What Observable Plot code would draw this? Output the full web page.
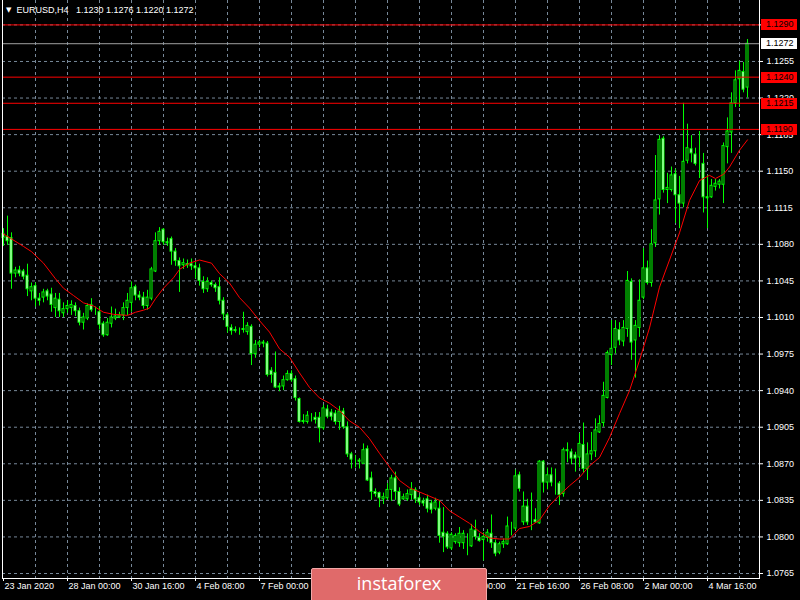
<!DOCTYPE html>
<html><head><meta charset="utf-8">
<script src="https://cdn.jsdelivr.net/npm/d3@7"></script>
<script src="https://cdn.jsdelivr.net/npm/@observablehq/plot@0.6"></script>
<style>
html,body{margin:0;padding:0;background:#000;}
#wrap{position:relative;width:800px;height:600px;overflow:hidden;background:#000;}
#title{position:absolute;left:6px;top:5px;color:#fff;font:9px "Liberation Sans",Arial,sans-serif;white-space:pre;}
#title .tri{font:7px "DejaVu Sans",sans-serif;position:relative;top:-1px;}
#logo{position:absolute;left:311px;top:568px;width:176px;height:34px;background:#e06a6a;border:1px solid #f2a8a8;border-radius:2px;color:#fff;font:18px "Open Sans",sans-serif;display:flex;justify-content:center;align-items:flex-start;padding-top:2px;box-sizing:border-box;}
</style>
</head><body>
<div id="wrap">
<div id="chart"></div>
<div id="title"><span class="tri">▼</span>  EURUSD,H4   1.1230 1.1276 1.1220 1.1272</div>
<div id="logo">instaforex</div>
</div>
<script>
// H4 candles EURUSD, 23 Jan 2020 08:00 -> 6 Mar 2020 08:00 (index = bar number)
const open = [1.1090,1.1087,1.1086,1.1052,1.1055,1.1054,1.1050,1.1035,1.1040,1.1028,
1.1029,1.1035,1.1032,1.1019,1.1027,1.1014,1.1018,1.1019,1.1021,1.1016,
1.1005,1.1009,1.1022,1.1017,1.1015,1.1004,1.0993,1.1004,1.1009,1.1010,
1.1012,1.1019,1.1024,1.1039,1.1031,1.1029,1.1021,1.1028,1.1054,1.1083,
1.1094,1.1082,1.1085,1.1073,1.1064,1.1060,1.1061,1.1061,1.1059,1.1057,
1.1044,1.1037,1.1043,1.1041,1.1039,1.1026,1.1012,1.1000,1.0998,1.0998,
1.0998,1.0996,1.1001,1.0975,1.0984,1.0986,1.0985,1.0959,1.0957,1.0944,
1.0944,1.0950,1.0956,1.0951,1.0932,1.0910,1.0910,1.0914,1.0914,1.0914,
1.0904,1.0922,1.0919,1.0918,1.0910,1.0920,1.0905,1.0879,1.0873,1.0873,
1.0870,1.0884,1.0856,1.0843,1.0842,1.0836,1.0837,1.0845,1.0856,1.0843,
1.0836,1.0836,1.0840,1.0845,1.0837,1.0834,1.0836,1.0832,1.0827,1.0827,
1.0804,1.0803,1.0789,1.0795,1.0794,1.0794,1.0793,1.0791,1.0806,1.0799,
1.0797,1.0799,1.0803,1.0794,1.0785,1.0793,1.0793,1.0810,1.0808,1.0859,
1.0814,1.0829,1.0815,1.0816,1.0813,1.0872,1.0852,1.0859,1.0852,1.0851,
1.0841,1.0883,1.0881,1.0878,1.0876,1.0888,1.0865,1.0879,1.0882,1.0900,
1.0909,1.0933,1.0974,1.0981,1.0998,1.0987,1.0999,1.1044,1.0988,1.1000,
1.1029,1.1057,1.1043,1.1081,1.1123,1.1181,1.1132,1.1132,1.1147,1.1127,
1.1119,1.1160,1.1171,1.1166,1.1158,1.1157,1.1125,1.1125,1.1135,1.1137,
1.1137,1.1173,1.1187,1.1215,1.1238,1.1245,1.1230];
const high = [1.1095,1.1107,1.1091,1.1058,1.1059,1.1056,1.1061,1.1043,1.1043,1.1033,
1.1037,1.1037,1.1038,1.1033,1.1033,1.1024,1.1026,1.1026,1.1024,1.1019,
1.1014,1.1023,1.1028,1.1020,1.1020,1.1006,1.1009,1.1020,1.1018,1.1015,
1.1024,1.1033,1.1044,1.1041,1.1035,1.1034,1.1036,1.1058,1.1091,1.1096,
1.1095,1.1086,1.1087,1.1076,1.1067,1.1066,1.1065,1.1066,1.1063,1.1061,
1.1049,1.1048,1.1045,1.1043,1.1048,1.1029,1.1014,1.1003,1.1001,1.1000,
1.1015,1.1005,1.1003,1.0988,1.0988,1.0988,1.0987,1.0962,1.0977,1.0947,
1.0954,1.0959,1.0959,1.0954,1.0933,1.0917,1.0920,1.0918,1.0919,1.0919,
1.0926,1.0926,1.0922,1.0921,1.0925,1.0923,1.0910,1.0881,1.0878,1.0875,
1.0889,1.0887,1.0862,1.0846,1.0843,1.0842,1.0851,1.0859,1.0862,1.0847,
1.0841,1.0845,1.0852,1.0847,1.0840,1.0837,1.0840,1.0835,1.0837,1.0835,
1.0828,1.0805,1.0804,1.0803,1.0809,1.0806,1.0803,1.0812,1.0816,1.0803,
1.0804,1.0807,1.0821,1.0797,1.0795,1.0798,1.0819,1.0814,1.0864,1.0862,
1.0843,1.0836,1.0842,1.0827,1.0873,1.0873,1.0866,1.0866,1.0865,1.0853,
1.0885,1.0890,1.0884,1.0881,1.0899,1.0909,1.0890,1.0900,1.0913,1.0916,
1.0948,1.0978,1.1007,1.1007,1.1005,1.1007,1.1054,1.1047,1.1007,1.1046,
1.1076,1.1064,1.1094,1.1165,1.1184,1.1183,1.1148,1.1154,1.1152,1.1145,
1.1215,1.1195,1.1184,1.1172,1.1188,1.1167,1.1146,1.1142,1.1142,1.1142,
1.1177,1.1201,1.1225,1.1246,1.1255,1.1254,1.1276];
const low = [1.1078,1.1079,1.1037,1.1048,1.1049,1.1046,1.1030,1.1026,1.1020,1.1021,
1.1024,1.1026,1.1015,1.1010,1.1010,1.1010,1.1014,1.1012,1.1011,1.1002,
1.0998,1.1007,1.1015,1.1012,1.0998,1.0991,1.0992,1.1000,1.1007,1.1009,
1.1007,1.1012,1.1015,1.1026,1.1026,1.1018,1.1017,1.1026,1.1053,1.1079,
1.1079,1.1078,1.1060,1.1059,1.1034,1.1056,1.1057,1.1055,1.1047,1.1040,
1.1033,1.1034,1.1039,1.1034,1.1022,1.1007,1.0995,1.0993,1.0995,1.0993,
1.0995,1.0993,1.0964,1.0971,1.0981,1.0981,1.0953,1.0947,1.0942,1.0939,
1.0940,1.0949,1.0948,1.0930,1.0909,1.0908,1.0908,1.0910,1.0908,1.0890,
1.0902,1.0913,1.0911,1.0907,1.0902,1.0903,1.0876,1.0865,1.0866,1.0865,
1.0870,1.0853,1.0835,1.0838,1.0828,1.0831,1.0835,1.0834,1.0835,1.0829,
1.0835,1.0834,1.0835,1.0832,1.0830,1.0829,1.0823,1.0822,1.0825,1.0794,
1.0785,1.0788,1.0787,1.0793,1.0790,1.0788,1.0782,1.0790,1.0797,1.0795,
1.0777,1.0795,1.0789,1.0781,1.0783,1.0789,1.0792,1.0801,1.0806,1.0843,
1.0811,1.0811,1.0806,1.0813,1.0812,1.0842,1.0845,1.0848,1.0840,1.0830,
1.0838,1.0871,1.0869,1.0862,1.0866,1.0861,1.0854,1.0873,1.0876,1.0899,
1.0905,1.0932,1.0964,1.0975,1.0983,1.0982,1.0991,1.0969,1.0952,1.0991,
1.1027,1.1041,1.1039,1.1077,1.1108,1.1129,1.1119,1.1130,1.1100,1.1095,
1.1115,1.1157,1.1158,1.1155,1.1143,1.1110,1.1095,1.1124,1.1131,1.1133,
1.1119,1.1157,1.1167,1.1211,1.1211,1.1225,1.1220];
const close = [1.1086,1.1083,1.1052,1.1055,1.1052,1.1049,1.1037,1.1039,1.1028,1.1026,
1.1034,1.1030,1.1022,1.1028,1.1016,1.1018,1.1021,1.1022,1.1016,1.1005,
1.1010,1.1021,1.1017,1.1017,1.1003,1.0993,1.1005,1.1010,1.1011,1.1012,
1.1019,1.1026,1.1038,1.1031,1.1029,1.1021,1.1029,1.1056,1.1083,1.1092,
1.1082,1.1081,1.1073,1.1064,1.1059,1.1062,1.1060,1.1059,1.1057,1.1045,
1.1037,1.1044,1.1041,1.1038,1.1026,1.1013,1.1001,1.0997,1.0997,1.0998,
1.0999,1.1002,1.0975,1.0984,1.0986,1.0985,1.0955,1.0955,1.0943,1.0943,
1.0950,1.0956,1.0950,1.0933,1.0910,1.0911,1.0916,1.0914,1.0912,1.0904,
1.0923,1.0915,1.0915,1.0910,1.0920,1.0905,1.0879,1.0874,1.0873,1.0872,
1.0883,1.0854,1.0843,1.0841,1.0837,1.0838,1.0845,1.0856,1.0843,1.0831,
1.0838,1.0841,1.0845,1.0836,1.0833,1.0832,1.0827,1.0826,1.0833,1.0801,
1.0800,1.0790,1.0802,1.0801,1.0803,1.0803,1.0793,1.0807,1.0800,1.0796,
1.0800,1.0804,1.0794,1.0784,1.0793,1.0795,1.0810,1.0810,1.0858,1.0846,
1.0829,1.0814,1.0815,1.0814,1.0872,1.0852,1.0859,1.0852,1.0852,1.0840,
1.0883,1.0882,1.0875,1.0875,1.0889,1.0865,1.0879,1.0882,1.0902,1.0908,
1.0935,1.0976,1.0980,1.0999,1.0988,1.1000,1.1045,1.0986,1.1002,1.1026,
1.1057,1.1043,1.1080,1.1122,1.1180,1.1132,1.1134,1.1146,1.1127,1.1119,
1.1159,1.1172,1.1167,1.1157,1.1158,1.1125,1.1124,1.1136,1.1138,1.1140,
1.1174,1.1188,1.1215,1.1237,1.1246,1.1228,1.1272];

// moving average (red), read at bar positions
const maIdx = [0,5,7,10,13,15,17.5,20,22.5,25,27.5,31,33,35,36.5,38,40,42.5,44,46.5,49,52,54,56.5,59,61.5,64,66.5,69,71.5,74,76.5,79,81.5,84,86.5,89,91.5,94,96.5,99,101.5,104,106.5,109,111.5,114,116.5,119,121.5,124,126.5,129,131.5,134,136.5,139,141.5,144,146.5,149,151.5,154,156.5,159,161.5,164,166.5,169,171.5,174,176.5,178,180,181.5,184,186];
const maVal = [1.1090,1.1078,1.1073,1.1062,1.1047,1.1038,1.1031,1.1024,1.1021,1.1015,1.1013,1.1012,1.1015,1.1017,1.1019,1.1028,1.1038,1.1048,1.1056,1.1062,1.1065,1.1062,1.1052,1.1043,1.1029,1.1019,1.1007,1.0996,1.0980,1.0972,1.0957,1.0943,1.0933,1.0928,1.0921,1.0911,1.0905,1.0894,1.0880,1.0867,1.0854,1.0847,1.0843,1.0839,1.0835,1.0825,1.0819,1.0813,1.0805,1.0799,1.0798,1.0798,1.0808,1.0810,1.0816,1.0830,1.0840,1.0849,1.0857,1.0868,1.0876,1.0895,1.0918,1.0940,1.0969,1.1000,1.1039,1.1065,1.1091,1.1122,1.1141,1.1146,1.1143,1.1147,1.1154,1.1170,1.1180];

const priceGrid = [1.0765,1.0800,1.0835,1.0870,1.0905,1.0940,1.0975,1.1010,1.1045,1.1080,1.1115,1.1150,1.1185,1.1220,1.1255,1.1290];
const vGridIdx = [8,16,24,32,40,48,56,64,72,80,88,96,104,112,120,128,136,144,152,160,168,176,184];
const labelIdx = [0,16,32,48,64,80,96,112,128,144,160,176];
const labelText = ["23 Jan 2020","28 Jan 00:00","30 Jan 16:00","4 Feb 08:00","7 Feb 00:00","11 Feb 16:00","14 Feb 08:00","19 Feb 00:00","21 Feb 16:00","26 Feb 08:00","2 Mar 00:00","4 Mar 16:00"];
const redLevels = [1.1290,1.1240,1.1215,1.1190];
const lastPrice = 1.1272;

const bars = open.map((o,i)=>({i, open:o, high:high[i], low:low[i], close:close[i]}));
const bull = bars.filter(d=>d.close>=d.open);
const bear = bars.filter(d=>d.close<d.open);
const ma = maIdx.map((i,k)=>({i, v:maVal[k]}));
const xlab = labelIdx.map((i,k)=>({i, t:labelText[k]}));
const GREEN = "#00ff00";

const plot = Plot.plot({
  width: 800, height: 600,
  marginLeft: 2, marginRight: 41, marginTop: 0, marginBottom: 22,
  style: {background:"#000", color:"#fff", fontFamily:"'Liberation Sans', Arial, sans-serif", fontSize:"9px"},
  x: {type:"linear", domain:[0,186], range:[3,747], axis:"bottom", ticks:labelIdx, tickFormat:()=>"", tickSize:3, label:null},
  // the 1.1290 grid label is fully hidden by its level box in the reference
  y: {type:"linear", domain:[1.0765,1.1290], range:[573,24.4], axis:"right", ticks:priceGrid, tickFormat:d=>d>=1.1289?"":d.toFixed(4), tickSize:3, tickPadding:4, label:null},
  marks: [
    Plot.ruleY(priceGrid, {stroke:"#778899", strokeDasharray:"3,3"}),
    Plot.ruleX(vGridIdx, {stroke:"#778899", strokeDasharray:"3,3"}),
    Plot.ruleX(bars, {x:"i", y1:"low", y2:"high", stroke:GREEN}),
    Plot.rect(bull, {x1:d=>d.i-0.25, x2:d=>d.i+0.25, y1:"open", y2:"close", fill:"#000", stroke:GREEN}),
    Plot.rect(bear, {x1:d=>d.i-0.25, x2:d=>d.i+0.25, y1:"open", y2:"close", fill:"#fff", stroke:GREEN}),
    Plot.line(ma, {x:"i", y:"v", stroke:"#ff0000", strokeWidth:1}),
    Plot.ruleY(redLevels, {stroke:"#ff0000"}),
    Plot.ruleY([lastPrice], {stroke:"#a0a0a0"}),
    Plot.frame({stroke:"#fff", insetTop:-3}),
    Plot.text(xlab, {x:"i", text:"t", frameAnchor:"bottom", dy:10, dx:1, textAnchor:"start", fill:"#fff"})
  ]
});
document.getElementById("chart").appendChild(plot);

// price label boxes on the right scale, positioned with Plot's own y scale
const ysc = plot.scale("y");
const ys = d3.scaleLinear(ysc.domain, ysc.range);
const svg = d3.select(plot);
const boxes = redLevels.map(v=>({v, bg:"#ff0000"})).concat([{v:lastPrice, bg:"#ffffff"}]);
const g = svg.append("g").attr("text-anchor","start");
boxes.forEach(b=>{
  const y = Math.round(ys(b.v));
  g.append("rect").attr("x",761).attr("y",y-5).attr("width",36).attr("height",11).attr("fill",b.bg);
  g.append("text").attr("x",766).attr("y",y).attr("dy","0.35em").attr("fill","#000").attr("text-anchor","start")
    .attr("font-size","9px").attr("font-family","'Liberation Sans', Arial, sans-serif").text(b.v.toFixed(4));
});
</script>
</body></html>
